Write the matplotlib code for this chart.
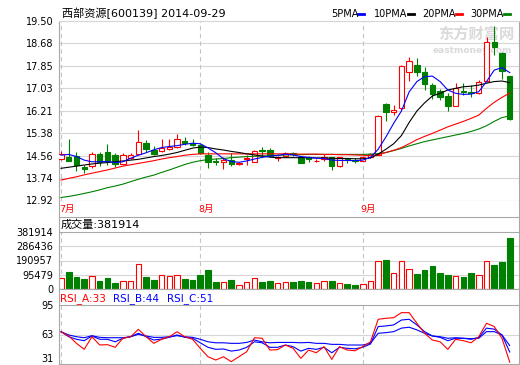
import matplotlib
matplotlib.use('Agg')
import matplotlib.pyplot as plt
from matplotlib.lines import Line2D
import numpy as np

plt.rcParams['font.family'] = ['DejaVu Sans', 'Noto Sans CJK SC']

# daily candles, 2014-07 .. 2014-09-29
opens = [14.43, 14.53, 14.55, 14.14, 14.18, 14.62, 14.70, 14.58, 14.25, 14.49,
         14.62, 15.02, 14.77, 14.72, 14.82, 14.89, 15.11, 15.03, 14.96, 14.59,
         14.36, 14.33, 14.41, 14.26, 14.44, 14.34, 14.78, 14.77, 14.48, 14.56,
         14.66, 14.53, 14.50, 14.36, 14.44, 14.50, 14.18, 14.43, 14.42, 14.38,
         14.50, 14.60, 16.46, 16.18, 16.30, 17.62, 17.89, 17.64, 17.15, 16.93,
         16.75, 16.40, 16.93, 16.91, 16.85, 17.30, 18.74, 18.32, 17.48]
highs = [14.73, 15.17, 14.71, 14.22, 14.71, 14.71, 15.00, 14.67, 14.65, 14.67,
         15.50, 15.14, 14.90, 15.17, 15.17, 15.35, 15.26, 15.19, 15.00, 14.69,
         14.47, 14.52, 14.65, 14.33, 14.57, 14.76, 14.89, 14.85, 14.55, 14.69,
         14.70, 14.56, 14.56, 14.44, 14.62, 14.52, 14.53, 14.47, 14.49, 14.54,
         14.67, 16.04, 16.50, 16.42, 17.90, 18.19, 18.13, 17.83, 17.22, 17.01,
         16.85, 17.24, 17.24, 17.15, 17.35, 18.93, 19.32, 18.35, 17.50]
lows = [14.40, 14.36, 13.99, 13.92, 14.10, 14.18, 14.22, 14.16, 14.22, 14.43,
        14.58, 14.71, 14.58, 14.70, 14.78, 14.85, 14.95, 14.90, 14.62, 14.10,
        14.21, 14.06, 14.18, 14.22, 14.22, 14.32, 14.53, 14.50, 14.38, 14.50,
        14.55, 14.28, 14.33, 14.33, 14.38, 14.02, 14.16, 14.30, 14.28, 14.35,
        14.47, 14.58, 15.85, 16.05, 16.25, 17.30, 17.48, 16.97, 16.64, 16.60,
        16.21, 16.38, 16.79, 16.73, 16.83, 17.28, 18.25, 17.36, 15.87]
closes = [14.62, 14.38, 14.22, 14.09, 14.62, 14.32, 14.37, 14.26, 14.57, 14.58,
          15.05, 14.80, 14.62, 14.83, 14.89, 15.16, 15.04, 14.97, 14.65, 14.34,
          14.34, 14.41, 14.25, 14.31, 14.46, 14.74, 14.72, 14.56, 14.50, 14.67,
          14.62, 14.31, 14.44, 14.38, 14.50, 14.18, 14.50, 14.40, 14.35, 14.50,
          14.64, 16.02, 16.18, 16.24, 17.85, 18.03, 17.64, 17.18, 16.82, 16.73,
          16.40, 17.03, 16.91, 16.85, 17.25, 18.72, 18.55, 17.65, 15.91]
volumes = [71700, 113900, 82400, 67000, 87100, 55600, 73700, 42200, 53600, 53600,
           165500, 80400, 60300, 91800, 87100, 91800, 67000, 60300, 93800, 127300,
           46900, 44200, 60300, 24800, 44900, 71700, 48900, 55600, 40200, 46900,
           46900, 55600, 48900, 40200, 53600, 55600, 40200, 33500, 26800, 33500,
           53600, 187600, 194300, 107200, 187600, 134000, 102500, 127300, 154100, 109200,
           93800, 87100, 82400, 109200, 93800, 187600, 160800, 182900, 343700]

ma5 = [14.58, 14.61, 14.53, 14.40, 14.34, 14.34, 14.35, 14.31, 14.34, 14.47,
       14.58, 14.67, 14.78, 14.86, 14.90, 14.93, 14.98, 15.02, 15.00, 14.85,
       14.67, 14.45, 14.35, 14.32, 14.37, 14.44, 14.50, 14.55, 14.57, 14.62,
       14.59, 14.53, 14.50, 14.47, 14.46, 14.40, 14.39, 14.39, 14.38, 14.40,
       14.50, 14.80, 15.25, 15.75, 16.20, 16.90, 17.28, 17.46, 17.48, 17.28,
       16.97, 16.85, 16.81, 16.82, 16.91, 17.28, 17.70, 17.79, 17.61]
ma10 = [14.10, 14.14, 14.18, 14.22, 14.26, 14.29, 14.31, 14.34, 14.37, 14.40,
        14.43, 14.48, 14.53, 14.57, 14.62, 14.68, 14.76, 14.84, 14.88, 14.86,
        14.81, 14.77, 14.72, 14.68, 14.63, 14.59, 14.55, 14.51, 14.49, 14.49,
        14.49, 14.49, 14.49, 14.48, 14.48, 14.47, 14.46, 14.46, 14.45, 14.45,
        14.48, 14.62, 14.80, 15.00, 15.30, 15.78, 16.20, 16.50, 16.75, 16.85,
        16.97, 17.03, 17.09, 17.11, 17.15, 17.22, 17.28, 17.30, 17.24]
ma20 = [13.67, 13.73, 13.79, 13.86, 13.92, 13.98, 14.04, 14.11, 14.18, 14.23,
        14.28, 14.33, 14.38, 14.44, 14.49, 14.53, 14.58, 14.61, 14.63, 14.63,
        14.63, 14.63, 14.63, 14.63, 14.63, 14.63, 14.63, 14.63, 14.63, 14.63,
        14.62, 14.62, 14.62, 14.62, 14.61, 14.61, 14.60, 14.60, 14.59, 14.58,
        14.56, 14.60, 14.68, 14.76, 14.86, 15.00, 15.15, 15.27, 15.38, 15.50,
        15.62, 15.72, 15.82, 15.93, 16.05, 16.30, 16.52, 16.70, 16.86]
ma30 = [13.03, 13.07, 13.12, 13.18, 13.24, 13.31, 13.39, 13.45, 13.52, 13.61,
        13.70, 13.78, 13.85, 13.95, 14.04, 14.14, 14.24, 14.32, 14.38, 14.42,
        14.44, 14.46, 14.49, 14.51, 14.53, 14.54, 14.55, 14.56, 14.58, 14.59,
        14.60, 14.60, 14.61, 14.61, 14.61, 14.61, 14.61, 14.61, 14.61, 14.61,
        14.62, 14.64, 14.68, 14.75, 14.83, 14.92, 15.00, 15.08, 15.14, 15.20,
        15.26, 15.32, 15.38, 15.45, 15.54, 15.66, 15.82, 15.96, 16.02]

rsi_a = [66.0, 61.4, 53.4, 46.9, 60.6, 51.6, 52.0, 49.1, 58.9, 60.6,
         68.6, 60.6, 53.4, 57.8, 60.6, 66.0, 60.6, 57.8, 48.0, 38.9,
         35.3, 38.9, 33.5, 38.9, 44.3, 59.5, 58.9, 46.1, 46.6, 51.6,
         48.0, 37.1, 46.1, 43.2, 49.8, 36.0, 49.8, 46.1, 45.4, 49.8,
         55.1, 79.5, 80.6, 81.2, 86.7, 86.7, 75.2, 64.3, 57.0, 55.1,
         46.9, 57.8, 56.3, 54.0, 60.6, 75.2, 71.6, 58.9, 33.0]
rsi_b = [66.0, 60.6, 57.8, 56.3, 61.4, 57.8, 57.8, 55.1, 58.9, 60.6,
         64.3, 60.6, 57.0, 58.1, 59.9, 62.5, 59.9, 58.9, 54.0, 49.1,
         46.9, 47.3, 45.0, 46.1, 49.1, 55.1, 54.0, 49.1, 49.1, 51.6,
         49.8, 45.0, 48.0, 46.9, 49.1, 43.2, 49.1, 48.0, 47.5, 49.1,
         52.7, 71.6, 72.3, 73.4, 78.7, 79.5, 73.4, 66.1, 61.4, 59.9,
         56.3, 58.9, 58.9, 57.8, 59.9, 69.9, 68.8, 62.5, 44.0]
rsi_c = [66.0, 62.5, 60.6, 59.5, 61.7, 59.9, 59.5, 59.5, 59.5, 60.6,
         63.2, 61.4, 59.9, 59.9, 60.6, 61.7, 60.6, 59.9, 57.8, 55.1,
         54.0, 54.0, 53.4, 53.4, 54.4, 57.0, 55.1, 54.0, 54.4, 54.4,
         54.4, 54.0, 54.4, 53.4, 53.4, 52.3, 52.3, 51.6, 51.6, 51.6,
         53.4, 64.3, 65.0, 66.1, 69.9, 70.9, 68.0, 64.3, 61.4, 60.6,
         58.9, 59.5, 58.9, 58.5, 58.9, 66.1, 66.1, 62.5, 51.0]

month_starts = [0, 18, 39]
month_labels = ['7月', '8月', '9月']
price_ticks = [12.92, 13.74, 14.56, 15.38, 16.21, 17.03, 17.85, 18.68, 19.50]
vol_ticks = [0, 95479, 190957, 286436, 381914]
rsi_ticks = [31, 63, 95]

RED, GREEN, BLUE = '#ff0000', '#008000', '#0000ff'
SPINE, GRID, DASH = '#a8a8a8', '#d6d6d6', '#c4c4c4'

n = len(closes)
x = np.arange(n)
o, h, l, c = map(np.array, (opens, highs, lows, closes))
up = c >= o

W, H = 520, 365
fig = plt.figure(figsize=(W / 100, H / 100), dpi=100)


def box(left, top, right, bottom):
    return [left / W, 1 - bottom / H, (right - left) / W, (bottom - top) / H]


ax_p = fig.add_axes(box(59, 21, 519, 200.5))
ax_m = fig.add_axes(box(59, 200.5, 519, 217))
ax_v = fig.add_axes(box(59, 217, 519, 289))
ax_r = fig.add_axes(box(59, 289, 519, 364))

xlim = (-0.26, n + 0.2)
for ax in (ax_p, ax_m, ax_v, ax_r):
    ax.set_xlim(*xlim)
    ax.set_xticks([])
    for s in ax.spines.values():
        s.set_color(SPINE)
        s.set_linewidth(0.8)
    ax.tick_params(axis='y', length=0, pad=4, labelsize=7)

# price panel
ax_p.set_ylim(price_ticks[0], price_ticks[-1])
ax_p.set_yticks(price_ticks)
ax_p.set_yticklabels(['%.2f' % t for t in price_ticks])
ax_p.spines['top'].set_color(GRID)
for t in price_ticks[1:-1]:
    ax_p.axhline(t, color=GRID, lw=0.8, zorder=0)
for m in month_starts:
    ax_p.axvline(m, color=DASH, lw=0.8, ls=(0, (4, 3)), zorder=0)

cols = np.where(up, RED, GREEN)
ax_p.vlines(x, l, h, colors=cols, lw=0.8, zorder=2)
body_lo = np.minimum(o, c)
body_h = np.maximum(np.abs(c - o), 0.005)
ax_p.bar(x, body_h, bottom=body_lo, width=0.7,
         color=np.where(up, 'white', GREEN), edgecolor=cols, linewidth=0.8, zorder=3)

ax_p.plot(x, ma30, color=GREEN, lw=0.8, zorder=4)
ax_p.plot(x, ma20, color=RED, lw=0.8, zorder=4)
ax_p.plot(x, ma10, color='black', lw=0.8, zorder=4)
ax_p.plot(x, ma5, color=BLUE, lw=0.8, zorder=4)

# watermark
ax_p.text(0.99, 0.93, '东方财富网', transform=ax_p.transAxes, ha='right', va='center',
          fontsize=11, fontweight='bold', color='#dadada', family=['Noto Sans CJK SC'], zorder=1)
ax_p.text(0.985, 0.835, 'eastmoney.com', transform=ax_p.transAxes, ha='right', va='center',
          fontsize=6.5, fontweight='bold', color='#dadada', zorder=1)

# month strip
ax_m.set_yticks([])
ax_m.set_ylim(0, 1)
ax_m.spines['top'].set_visible(False)
ax_m.spines['bottom'].set_visible(False)
for m, lab in zip(month_starts, month_labels):
    ax_m.text(m - 0.25, 0.45, lab, color=RED, fontsize=6.8, ha='left', va='center')

# volume panel
vtop = vol_ticks[-1] * (289 - 217) / (289 - 232)
ax_v.set_ylim(0, vtop)
ax_v.set_yticks(vol_ticks)
ax_v.set_yticklabels([str(t) for t in vol_ticks])
for t in vol_ticks[1:-1]:
    ax_v.axhline(t, color=GRID, lw=0.8, zorder=0)
ax_v.axhline(vol_ticks[-1], color=SPINE, lw=0.8, zorder=1)
ax_v.vlines(month_starts, 0, vol_ticks[-1], colors=DASH, lw=0.8, linestyles=(0, (4, 3)), zorder=0)
ax_v.bar(x, volumes, width=0.72, color=np.where(up, 'white', GREEN),
         edgecolor=cols, linewidth=0.8, zorder=2)
ax_v.text(0.003, (289 - 224.5) / 72, '成交量:381914', transform=ax_v.transAxes,
          fontsize=8, ha='left', va='center')

# rsi panel
rtop = 31 + 64 * (364 - 289) / (364 - 305)
ax_r.set_ylim(31, rtop)
ax_r.set_yticks(rsi_ticks)
ax_r.set_yticklabels([str(t) for t in rsi_ticks])
ax_r.get_yticklabels()[0].set_verticalalignment('bottom')
ax_r.axhline(63, color=GRID, lw=0.8, zorder=0)
ax_r.axhline(95, color=SPINE, lw=0.8, zorder=1)
ax_r.vlines(month_starts, 31, 95, colors=DASH, lw=0.8, linestyles=(0, (4, 3)), zorder=0)
ax_r.plot(x, rsi_c, color=BLUE, lw=0.8, zorder=2)
ax_r.plot(x, rsi_b, color=BLUE, lw=0.8, zorder=2)
ax_r.plot(x, rsi_a, color=RED, lw=0.8, zorder=3)
ry = (364 - 299) / 75
ax_r.text(0.003, ry, 'RSI_A:33', transform=ax_r.transAxes, color=RED, fontsize=7.5, va='center')
ax_r.text(0.118, ry, 'RSI_B:44', transform=ax_r.transAxes, color=BLUE, fontsize=7.5, va='center')
ax_r.text(0.235, ry, 'RSI_C:51', transform=ax_r.transAxes, color=BLUE, fontsize=7.5, va='center')

# title and legend
fig.text(62 / W, 1 - 13 / H, '西部资源[600139] 2014-09-29', fontsize=8, ha='left', va='center')
legend = [('5PMA', BLUE, 331), ('10PMA', 'black', 374), ('20PMA', RED, 422), ('30PMA', GREEN, 470)]
for name, col, px in legend:
    fig.text(px / W, 1 - 14 / H, name, fontsize=7, ha='left', va='center')
    ex = px + 6.3 * len(name) + 2
    fig.add_artist(Line2D([ex / W, (ex + 6) / W], [1 - 14 / H] * 2, color=col, lw=2))

fig.savefig('out.png', dpi=100)
